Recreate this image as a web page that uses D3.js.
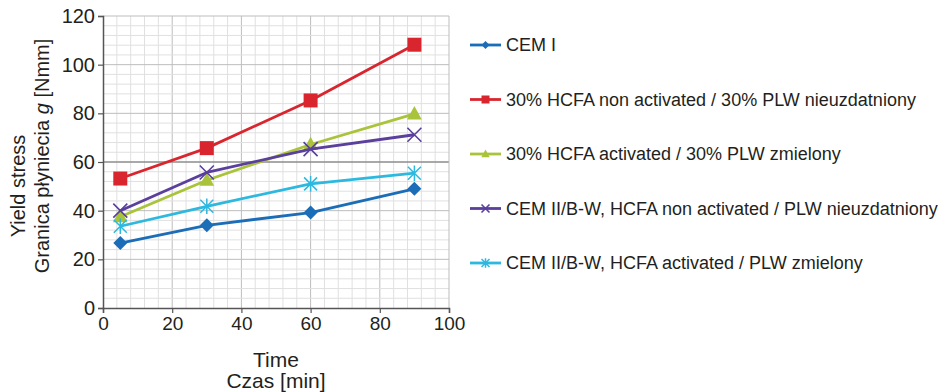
<!DOCTYPE html>
<html>
<head>
<meta charset="utf-8">
<script src="https://cdn.jsdelivr.net/npm/d3@7"></script>
<style>
  body { margin: 0; background: #fff; }
  svg text { font-family: "Liberation Sans", Arial, sans-serif; fill: #231f20; }
</style>
</head>
<body>
<svg id="chart" width="949" height="392"></svg>
<script>
(function (d3) {
    'use strict';

    var times = [5, 30, 60, 90];
    var cemI = [26.7, 34, 39.2, 49];
    var hcfaNonAct = [53.2, 65.7, 85.3, 108.2];
    var hcfaAct = [37.5, 52.5, 67.2, 79.8];
    var cemIINonAct = [40, 55.7, 65.3, 71.2];
    var cemIIAct = [33.6, 41.8, 51, 55.4];

    var seriesNames = [
        'CEM I',
        '30% HCFA non activated / 30% PLW nieuzdatniony',
        '30% HCFA activated / 30% PLW zmielony',
        'CEM II/B-W, HCFA non activated / PLW nieuzdatniony',
        'CEM II/B-W, HCFA activated / PLW zmielony'
    ];
    var seriesColors = ['#1b6db8', '#d9262e', '#a9c33b', '#5a3f9c', '#2db8e0'];
    var seriesMarkers = ['diamond', 'square', 'triangle', 'cross', 'star'];

    var xTicks = [0, 20, 40, 60, 80, 100];
    var yTicks = [0, 20, 40, 60, 80, 100, 120];

    var series = [cemI, hcfaNonAct, hcfaAct, cemIINonAct, cemIIAct].map(function (vals, i) {
        return {
            name: seriesNames[i],
            color: seriesColors[i],
            marker: seriesMarkers[i],
            points: vals.map(function (v, j) { return { t: times[j], v: v }; })
        };
    });

    var plot = { left: 103, right: 449, top: 16, bottom: 308 };

    var x = d3.scaleLinear().domain([0, 100]).range([plot.left, plot.right]),
        y = d3.scaleLinear().domain([0, 120]).range([plot.bottom, plot.top]);

    var svg = d3.select('#chart');

    // grid
    var grid = svg.append('g');
    grid.selectAll('line.vx')
        .data(d3.range(4, 100, 4))
        .enter().append('line')
        .attr('x1', function (d) { return x(d); })
        .attr('x2', function (d) { return x(d); })
        .attr('y1', plot.top).attr('y2', plot.bottom)
        .attr('stroke', function (d) { return d % 20 === 0 ? '#bdbdbd' : '#e0e0e0'; })
        .attr('stroke-width', 1);
    grid.selectAll('line.hy')
        .data(d3.range(4, 120, 4))
        .enter().append('line')
        .attr('y1', function (d) { return y(d); })
        .attr('y2', function (d) { return y(d); })
        .attr('x1', plot.left).attr('x2', plot.right)
        .attr('stroke', function (d) { return d === 60 ? '#8c8c8c' : (d % 20 === 0 ? '#bdbdbd' : '#e0e0e0'); })
        .attr('stroke-width', function (d) { return d === 60 ? 1.3 : 1; });
    grid.append('line')
        .attr('x1', x(100)).attr('x2', x(100))
        .attr('y1', plot.top).attr('y2', plot.bottom)
        .attr('stroke', '#bdbdbd');
    grid.append('line')
        .attr('x1', plot.left).attr('x2', plot.right)
        .attr('y1', y(120)).attr('y2', y(120))
        .attr('stroke', '#bdbdbd');

    // axes
    var xAxis = svg.append('g')
        .attr('transform', 'translate(0,' + plot.bottom + ')')
        .call(d3.axisBottom(x).tickValues(xTicks).tickSize(5).tickPadding(4));
    var yAxis = svg.append('g')
        .attr('transform', 'translate(' + plot.left + ',0)')
        .call(d3.axisLeft(y).tickValues(yTicks).tickSize(5).tickPadding(3));

    [xAxis, yAxis].forEach(function (ax) {
        ax.select('.domain').attr('stroke', '#555').attr('stroke-width', 1.5);
        ax.selectAll('.tick line').attr('stroke', '#555').attr('stroke-width', 1.2);
        ax.selectAll('.tick text')
            .style('font-family', '"Liberation Sans", Arial, sans-serif')
            .style('font-size', '19px')
            .attr('fill', '#231f20');
    });
    yAxis.selectAll('.tick text').style('font-size', '20px');

    // axis titles
    svg.append('text')
        .attr('x', 276).attr('y', 367)
        .attr('text-anchor', 'middle')
        .style('font-size', '21px')
        .text('Time');
    svg.append('text')
        .attr('x', 276).attr('y', 388)
        .attr('text-anchor', 'middle')
        .style('font-size', '21px')
        .text('Czas [min]');

    svg.append('text')
        .attr('transform', 'translate(25,186) rotate(-90)')
        .attr('text-anchor', 'middle')
        .style('font-size', '20px')
        .text('Yield stress');
    var yt = svg.append('text')
        .attr('transform', 'translate(49,156) rotate(-90)')
        .attr('text-anchor', 'middle')
        .style('font-size', '20px');
    yt.append('tspan').text('Granica płyniecia ');
    yt.append('tspan').style('font-style', 'italic').text('g');
    yt.append('tspan').text(' [Nmm]');

    // marker drawing
    function drawMarker(g, type, color, s) {
        if (type === 'diamond') {
            g.append('path')
                .attr('d', 'M0,' + (-s) + 'L' + s + ',0L0,' + s + 'L' + (-s) + ',0Z')
                .attr('fill', color);
        } else if (type === 'square') {
            g.append('rect')
                .attr('x', -s).attr('y', -s)
                .attr('width', 2 * s).attr('height', 2 * s)
                .attr('fill', color);
        } else if (type === 'triangle') {
            g.append('path')
                .attr('d', 'M0,' + (-s * 1.1) + 'L' + (s * 1.05) + ',' + (s * 0.8) + 'L' + (-s * 1.05) + ',' + (s * 0.8) + 'Z')
                .attr('fill', color);
        } else if (type === 'cross') {
            g.append('path')
                .attr('d', 'M' + (-s) + ',' + (-s) + 'L' + s + ',' + s + 'M' + s + ',' + (-s) + 'L' + (-s) + ',' + s)
                .attr('stroke', color).attr('stroke-width', 1.6).attr('fill', 'none');
        } else if (type === 'star') {
            g.append('path')
                .attr('d', 'M' + (-s) + ',' + (-s) + 'L' + s + ',' + s + 'M' + s + ',' + (-s) + 'L' + (-s) + ',' + s +
                    'M0,' + (-s * 1.2) + 'L0,' + (s * 1.2))
                .attr('stroke', color).attr('stroke-width', 1.5).attr('fill', 'none');
        }
    }

    var markerSize = { diamond: 7, square: 7, triangle: 7, cross: 7, star: 6.5 };

    var line = d3.line()
        .x(function (d) { return x(d.t); })
        .y(function (d) { return y(d.v); });

    var seriesG = svg.append('g').selectAll('g.series')
        .data(series)
        .enter().append('g')
        .attr('class', 'series');

    seriesG.append('path')
        .attr('d', function (d) { return line(d.points); })
        .attr('fill', 'none')
        .attr('stroke', function (d) { return d.color; })
        .attr('stroke-width', 2.8)
        .attr('stroke-linejoin', 'round');

    seriesG.each(function (s) {
        var g = d3.select(this);
        s.points.forEach(function (p) {
            var m = g.append('g').attr('transform', 'translate(' + x(p.t) + ',' + y(p.v) + ')');
            drawMarker(m, s.marker, s.color, markerSize[s.marker]);
        });
    });

    // legend
    var legendY = d3.scalePoint().domain(seriesNames).range([45, 263]);
    var legend = svg.append('g').selectAll('g.legend')
        .data(series)
        .enter().append('g')
        .attr('class', 'legend')
        .attr('transform', function (d) { return 'translate(470,' + legendY(d.name) + ')'; });

    legend.append('line')
        .attr('x1', 0).attr('x2', 31)
        .attr('y1', 0).attr('y2', 0)
        .attr('stroke', function (d) { return d.color; })
        .attr('stroke-width', 2.8);
    legend.each(function (s) {
        var m = d3.select(this).append('g').attr('transform', 'translate(15.5,0)');
        drawMarker(m, s.marker, s.color, 4);
    });
    legend.append('text')
        .attr('x', 36)
        .attr('y', 0)
        .attr('dy', '0.35em')
        .style('font-size', '18px')
        .text(function (d) { return d.name; });
})(window.d3);
</script>
</body>
</html>
